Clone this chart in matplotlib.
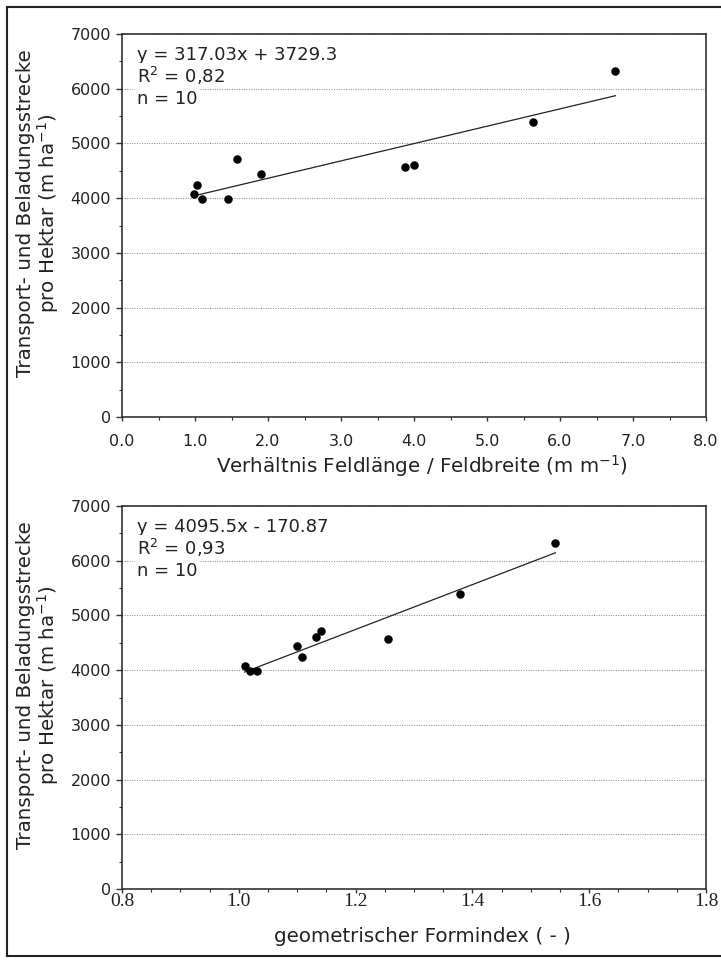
import numpy as np
import matplotlib
matplotlib.use("Agg")
import matplotlib.pyplot as plt
from matplotlib.ticker import MultipleLocator, FormatStrFormatter
from matplotlib.lines import Line2D

# data (same 10 fields in both panels)
lengthWidthRatio = [0.99, 1.03, 1.10, 1.45, 1.58, 1.90, 3.88, 4.00, 5.63, 6.76]
formIndex = [1.010, 1.108, 1.020, 1.032, 1.140, 1.100, 1.256, 1.132, 1.379, 1.542]
routePerHa = [4068, 4234, 3978, 3978, 4720, 4434, 4573, 4608, 5396, 6330]

# trend lines as printed in the chart
slopes = [317.03, 4095.5]
intercepts = [3729.3, -170.87]
eqTexts = ["y = 317.03x + 3729.3", "y = 4095.5x - 170.87"]
r2Texts = ["R$^2$ = 0,82", "R$^2$ = 0,93"]
nText = "n = 10"

yLabel = "Transport- und Beladungsstrecke\npro Hektar (m ha$^{-1}$)"
xLabels = ["Verhältnis Feldlänge / Feldbreite (m m$^{-1}$)", "geometrischer Formindex ( - )"]

W, H = 721, 966
plt.rcParams['font.family'] = ['DejaVu Sans']
plt.rcParams['mathtext.fontset'] = 'dejavusans'

fig = plt.figure(figsize=(W / 100, H / 100), dpi=100)

def px(x, y):
    return x / W, 1 - y / H

axLeft, axRight = 122, 706
panels = [(34, 417), (506, 889)]
xData = [lengthWidthRatio, formIndex]
xLims = [(0, 8), (0.8, 1.8)]
xMajor = [1.0, 0.2]
xMinor = [0.5, 0.05]
xLabelY = [466, 937]
yLabelY = [213, 685]

for i in range(2):
    top, bottom = panels[i]
    axW = axRight - axLeft
    axH = bottom - top
    ax = fig.add_axes([axLeft / W, 1 - bottom / H, axW / W, axH / H])

    ax.scatter(xData[i], routePerHa, s=26, color='black', zorder=4)
    xs = np.array([min(xData[i]), max(xData[i])])
    ax.plot(xs, slopes[i] * xs + intercepts[i], color='#222222', lw=0.9, zorder=3)

    ax.set_xlim(xLims[i])
    ax.set_ylim(0, 7000)
    ax.yaxis.set_major_locator(MultipleLocator(1000))
    ax.yaxis.set_minor_locator(MultipleLocator(500))
    ax.xaxis.set_major_locator(MultipleLocator(xMajor[i]))
    ax.xaxis.set_minor_locator(MultipleLocator(xMinor[i]))
    ax.xaxis.set_major_formatter(FormatStrFormatter('%.1f'))

    ax.yaxis.grid(True, linestyle=(0, (1, 1.5)), color='#888888', lw=0.7)
    ax.set_axisbelow(True)
    for sp in ax.spines.values():
        sp.set_color('#333333')
        sp.set_linewidth(1.2)

    ax.tick_params(axis='y', which='major', direction='out', length=4, width=1, colors='#333333',
                   labelcolor='#222222', labelsize=11.5, pad=4)
    ax.tick_params(axis='y', which='minor', direction='out', length=2.5, width=0.8, colors='#333333')
    if i == 0:
        ax.tick_params(axis='x', which='major', direction='out', length=3, width=1, colors='#333333',
                       labelcolor='#222222', labelsize=11.5, pad=9)
    else:
        ax.tick_params(axis='x', which='major', direction='out', length=3, width=1, colors='#333333',
                       labelcolor='#222222', labelsize=14, pad=0)
        for lab in ax.get_xticklabels():
            lab.set_fontfamily('Liberation Serif')
    ax.tick_params(axis='x', which='minor', direction='out', length=2.5, width=0.8, colors='#333333')

    # equation block, one text per line
    tx = 15 / axW
    box = dict(facecolor='white', edgecolor='none', pad=1.5)
    ax.text(tx, 1 - 26 / axH, eqTexts[i], transform=ax.transAxes, fontsize=13,
            color='#222222', va='baseline', ha='left', zorder=5)
    ax.text(tx, 1 - 49.3 / axH, r2Texts[i], transform=ax.transAxes, fontsize=13,
            color='#222222', va='baseline', ha='left', zorder=5, bbox=box)
    ax.text(tx, 1 - 70.3 / axH, nText, transform=ax.transAxes, fontsize=13,
            color='#222222', va='baseline', ha='left', zorder=5, bbox=box)

    fig.text(*px(422, xLabelY[i]), xLabels[i], ha='center', va='center', fontsize=14.3, color='#222222')
    fig.text(*px(38.5, yLabelY[i]), yLabel, ha='center', va='center', rotation=90,
             multialignment='center', linespacing=1.0, fontsize=14.3, color='#222222')

# frame around the figure (no line on the right edge)
for xy in [((7, 7), (7, 956)), ((7, 7), (721, 7)), ((7, 956), (721, 956))]:
    (x0, y0), (x1, y1) = xy
    fig.add_artist(Line2D([x0 / W, x1 / W], [1 - y0 / H, 1 - y1 / H], color='#222222', lw=1.5))

fig.savefig("out.png", dpi=100)
